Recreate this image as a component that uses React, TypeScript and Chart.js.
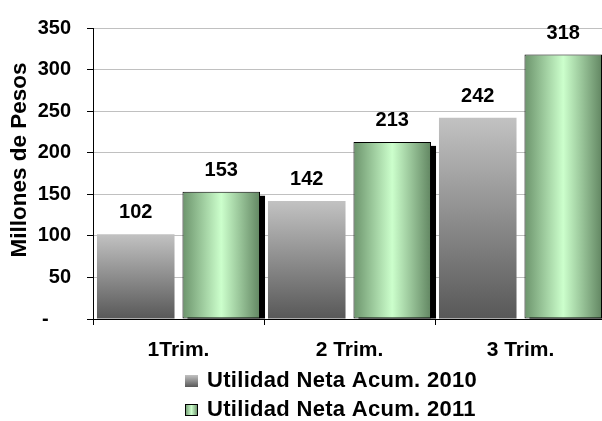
import { useEffect, useRef } from 'react';
import { Chart, registerables } from 'chart.js';

Chart.register(...registerables);

const categories = ['1Trim.', '2 Trim.', '3 Trim.'];
const series2010 = [102, 142, 242];
const series2011 = [153, 213, 318];
const seriesNames = ['Utilidad Neta Acum. 2010', 'Utilidad Neta Acum. 2011'];
const yAxisTitle = 'Millones de Pesos';
const yMin = 0;
const yMax = 350;
const yStep = 50;

const FONT = '"Liberation Sans", Arial, Helvetica, sans-serif';
const CAT_PCT = 1.0;
const BAR_PCT = 0.907;
const CANVAS_W = 608;
const CANVAS_H = 421;

function grayGradient(ctx: CanvasRenderingContext2D, top: number, bottom: number) {
  const g = ctx.createLinearGradient(0, top, 0, bottom);
  g.addColorStop(0, '#c2c2c2');
  g.addColorStop(1, '#585858');
  return g;
}

function greenGradient(ctx: CanvasRenderingContext2D, left: number, right: number) {
  const g = ctx.createLinearGradient(left, 0, right, 0);
  g.addColorStop(0, '#6c946c');
  g.addColorStop(0.5, '#ccffcc');
  g.addColorStop(1, '#628662');
  return g;
}

function barBounds(chart: any, dataIndex: number, datasetIndex: number) {
  const xs = chart.scales.x;
  const n = chart.data.labels.length;
  const catW = xs.width / n;
  const center = xs.getPixelForValue(dataIndex);
  const groupW = catW * CAT_PCT;
  const slot = groupW / 2;
  const barCenter = center - groupW / 2 + slot * (datasetIndex + 0.5);
  const bw = slot * BAR_PCT;
  return { left: barCenter - bw / 2, right: barCenter + bw / 2 };
}

const customPlugin = {
  id: 'customDraw',
  beforeDatasetDraw(chart: any, args: any) {
    if (args.index === 1) {
      // drop shadow behind the 2011 bars, using the bar elements' own geometry
      const ctx = chart.ctx;
      const area = chart.chartArea;
      const meta = chart.getDatasetMeta(1);
      ctx.save();
      ctx.beginPath();
      ctx.rect(area.left, area.top - 20, area.right - area.left + 20, area.bottom - area.top + 20);
      ctx.clip();
      ctx.fillStyle = '#000000';
      meta.data.forEach((el: any) => {
        const w = el.width;
        const left = el.x - w / 2 + 5;
        const top = el.y + 4;
        ctx.fillRect(left, top, w, el.base - top);
      });
      ctx.restore();
    }
  },
  afterDatasetsDraw(chart: any) {
    const ctx = chart.ctx;
    const area = chart.chartArea;
    // x axis line on top of bars
    ctx.save();
    ctx.strokeStyle = '#000';
    ctx.lineWidth = 1;
    ctx.beginPath();
    ctx.moveTo(area.left, Math.round(area.bottom) + 0.5);
    ctx.lineTo(area.right, Math.round(area.bottom) + 0.5);
    ctx.stroke();
    // data labels
    ctx.fillStyle = '#000';
    ctx.font = `bold 20px ${FONT}`;
    ctx.textAlign = 'center';
    ctx.textBaseline = 'alphabetic';
    chart.data.datasets.forEach((ds: any, i: number) => {
      const meta = chart.getDatasetMeta(i);
      meta.data.forEach((el: any, j: number) => {
        ctx.fillText(String(ds.data[j]), el.x, el.y - 15.8);
      });
    });
    ctx.restore();
  },
  afterDraw(chart: any) {
    const ctx = chart.ctx;
    ctx.save();
    // y axis title
    ctx.translate(20, 160);
    ctx.rotate(-Math.PI / 2);
    ctx.fillStyle = '#000';
    ctx.font = `bold 22.5px ${FONT}`;
    ctx.textAlign = 'center';
    ctx.textBaseline = 'middle';
    ctx.fillText(yAxisTitle, 0, 0);
    ctx.restore();

    // legend
    const baselines = [387, 416];
    const boxX = 185;
    const boxW = 13;
    const boxH = 12;
    seriesNames.forEach((name, i) => {
      const b = baselines[i];
      const top = b - boxH;
      ctx.save();
      if (i === 0) {
        ctx.fillStyle = grayGradient(ctx, top, top + boxH);
        ctx.fillRect(boxX, top, boxW, boxH);
      } else {
        ctx.fillStyle = greenGradient(ctx, boxX, boxX + boxW);
        ctx.fillRect(boxX, top, boxW, boxH);
        ctx.strokeStyle = '#000';
        ctx.lineWidth = 1;
        ctx.strokeRect(boxX + 0.5, top + 0.5, boxW - 1, boxH - 1);
      }
      ctx.fillStyle = '#000';
      ctx.font = `bold 22px ${FONT}`;
      ctx.textAlign = 'left';
      ctx.textBaseline = 'alphabetic';
      try {
        (ctx as any).letterSpacing = '0.3px';
      } catch (e) {}
      ctx.fillText(name, 207, b);
      ctx.restore();
    });
  },
};

export default function App() {
  const canvasRef = useRef<HTMLCanvasElement | null>(null);

  useEffect(() => {
    const canvas = canvasRef.current;
    if (!canvas) return;
    const chart = new Chart(canvas, {
      type: 'bar',
      data: {
        labels: categories,
        datasets: [
          {
            label: seriesNames[0],
            data: series2010,
            backgroundColor: (c: any) => {
              const chart = c.chart;
              if (!chart.chartArea || c.raw === undefined) return '#999999';
              const ys = chart.scales.y;
              return grayGradient(chart.ctx, ys.getPixelForValue(c.raw), ys.getPixelForValue(0));
            },
            borderWidth: 0,
            categoryPercentage: CAT_PCT,
            barPercentage: BAR_PCT,
          },
          {
            label: seriesNames[1],
            data: series2011,
            backgroundColor: (c: any) => {
              const chart = c.chart;
              if (!chart.chartArea || c.dataIndex === undefined) return '#aaddaa';
              const { left, right } = barBounds(chart, c.dataIndex, c.datasetIndex);
              return greenGradient(chart.ctx, left, right);
            },
            borderColor: '#000000',
            borderWidth: 1,
            borderSkipped: false,
            categoryPercentage: CAT_PCT,
            barPercentage: BAR_PCT,
          },
        ],
      },
      options: {
        responsive: false,
        animation: false,
        events: [],
        layout: { padding: { top: 19, right: 2, bottom: 62, left: 0 } },
        plugins: {
          legend: { display: false },
          tooltip: { enabled: false },
          title: { display: false },
        },
        scales: {
          x: {
            grid: {
              display: true,
              drawOnChartArea: false,
              drawTicks: true,
              tickLength: 6,
              tickColor: '#000',
              offset: true,
            },
            border: { display: true, color: '#000', width: 1 },
            ticks: {
              color: '#000',
              font: { family: FONT, size: 21, weight: 'bold' },
              padding: 13,
              maxRotation: 0,
              autoSkip: false,
            },
            afterFit: (s: any) => {
              s.height = 40;
            },
          },
          y: {
            min: yMin,
            max: yMax,
            grid: {
              color: '#c0c0c0',
              tickColor: '#000',
              tickLength: 6,
              drawTicks: true,
            },
            border: { display: true, color: '#000', width: 1 },
            ticks: {
              stepSize: yStep,
              color: '#000',
              font: { family: FONT, size: 20, weight: 'bold' },
              padding: 16,
              callback: (v: any) => (Number(v) === 0 ? '-    ' : String(v)),
            },
            afterFit: (s: any) => {
              s.width = 93;
            },
          },
        },
      },
      plugins: [customPlugin],
    });
    return () => chart.destroy();
  }, []);

  return (
    <div
      style={{
        position: 'fixed',
        left: 0,
        top: 0,
        width: 602,
        height: 421,
        overflow: 'hidden',
        background: '#ffffff',
      }}
    >
      <canvas
        ref={canvasRef}
        width={CANVAS_W}
        height={CANVAS_H}
        style={{ display: 'block', width: CANVAS_W, height: CANVAS_H }}
      />
    </div>
  );
}
